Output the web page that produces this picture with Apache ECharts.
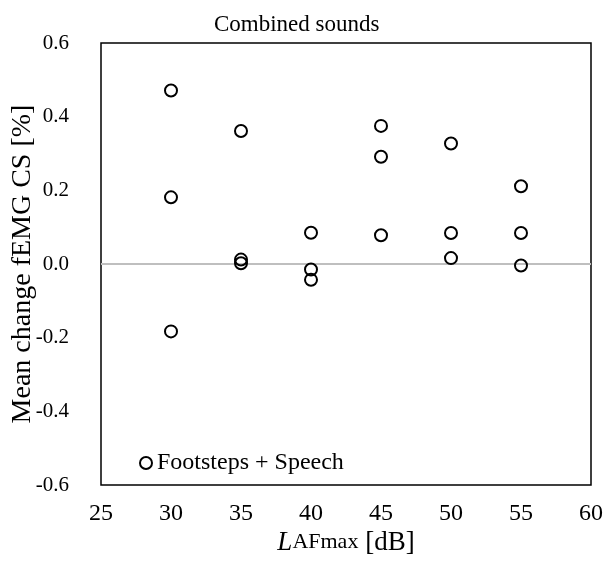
<!DOCTYPE html>
<html>
<head>
<meta charset="utf-8">
<script src="https://cdn.jsdelivr.net/npm/echarts@6/dist/echarts.min.js"></script>
<style>
  html, body { margin: 0; padding: 0; background: #fff; }
  #chart { width: 608px; height: 563px; }
</style>
</head>
<body>
<div id="chart"></div>
<script>
// Sound level categories (LAFmax, dB)
const levels = [30, 35, 40, 45, 50, 55];
// Mean change in fEMG CS (%) for the three measurements at each level
const footstepsSpeech = [
  [0.471, 0.181, -0.183],
  [0.361, 0.012, 0.002],
  [0.085, -0.015, -0.043],
  [0.375, 0.291, 0.078],
  [0.327, 0.084, 0.016],
  [0.211, 0.084, -0.004]
];
const seriesName = 'Footsteps + Speech';
const chartTitle = 'Combined sounds';
const yAxisTitle = 'Mean change fEMG CS [%]';

const points = [];
levels.forEach((lv, i) => {
  footstepsSpeech[i].forEach(v => points.push([lv, v]));
});

const serif = "'Liberation Serif', 'Times New Roman', serif";
const chart = echarts.init(document.getElementById('chart'));

chart.setOption({
  backgroundColor: '#fff',
  animation: false,
  title: {
    text: chartTitle,
    left: 214,
    top: 13,
    padding: 0,
    textStyle: { fontFamily: serif, fontSize: 23, fontWeight: 'normal', color: '#000' }
  },
  grid: {
    left: 101, right: 17, top: 43, bottom: 78,
    containLabel: false, outerBoundsMode: 'none',
    show: true, borderColor: '#000', borderWidth: 1.5, backgroundColor: 'transparent'
  },
  legend: {
    left: 134, top: 446,
    itemWidth: 12, itemHeight: 12, itemGap: 4,
    data: [{ name: seriesName, icon: 'circle' }],
    textStyle: { fontFamily: serif, fontSize: 24, color: '#000', padding: [0, 0, 0, 0] }
  },
  xAxis: {
    type: 'value', min: 25, max: 60, interval: 5,
    axisLine: { show: false }, axisTick: { show: false }, splitLine: { show: false },
    axisLabel: { fontFamily: serif, fontSize: 24, color: '#000', margin: 17 },
    name: '{i|L}{s|AFmax}{n| [dB]}',
    nameLocation: 'middle', nameGap: 44, nameMoveOverlap: false,
    nameTextStyle: {
      rich: {
        i: { fontFamily: serif, fontSize: 27, fontStyle: 'italic', color: '#000' },
        s: { fontFamily: serif, fontSize: 22, color: '#000' },
        n: { fontFamily: serif, fontSize: 27, color: '#000' }
      }
    }
  },
  yAxis: {
    type: 'value', min: -0.6, max: 0.6, interval: 0.2,
    axisLine: { show: false }, axisTick: { show: false }, splitLine: { show: false },
    axisLabel: {
      fontFamily: serif, fontSize: 21, color: '#000', margin: 32,
      formatter: v => v.toFixed(1)
    },
    name: yAxisTitle, nameLocation: 'middle', nameGap: 64, nameMoveOverlap: false,
    nameTextStyle: { fontFamily: serif, fontSize: 28, color: '#000' }
  },
  series: [{
    name: seriesName,
    type: 'scatter',
    symbol: 'circle',
    symbolSize: 12,
    data: points,
    itemStyle: { color: 'rgba(255,255,255,0)', borderColor: '#000', borderWidth: 2, opacity: 1 },
    markLine: {
      silent: true, symbol: 'none', label: { show: false },
      lineStyle: { color: '#bfbfbf', width: 2, type: 'solid' },
      data: [{ yAxis: 0 }],
      z: 1
    }
  }]
});
</script>
</body>
</html>
